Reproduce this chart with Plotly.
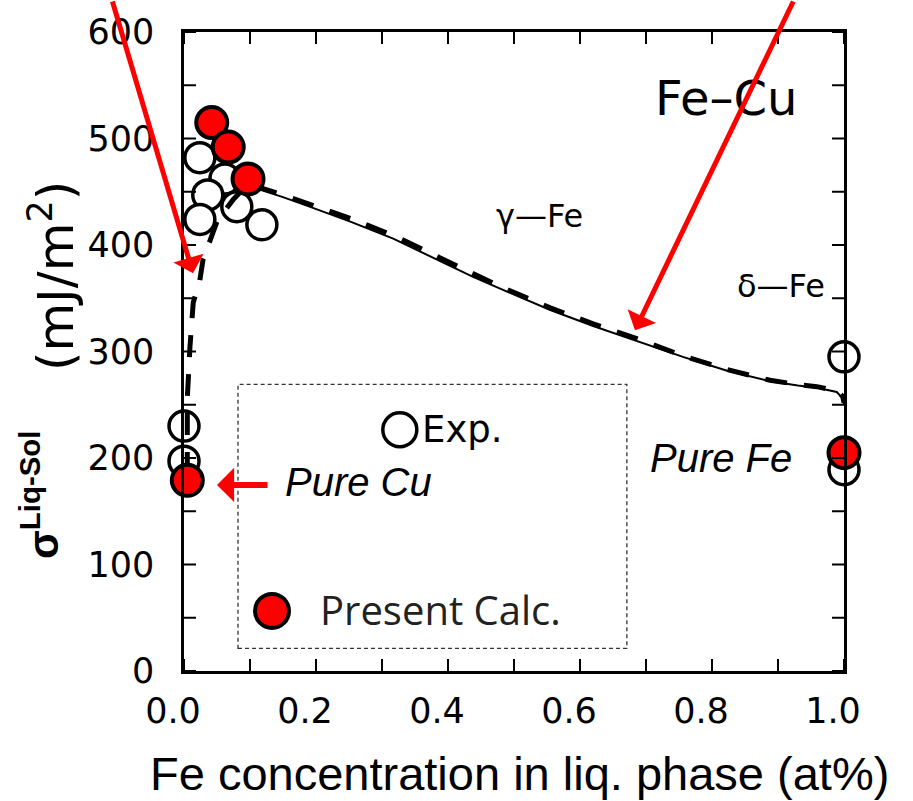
import plotly.graph_objects as go

# Experimental liquid-solid interfacial energies (open circles)
exp_x = [0.024, 0.062, 0.036, 0.080, 0.024, 0.118, 0.0, 0.0, 1.0, 1.0]
exp_y = [482, 462, 447, 436, 424, 419, 230, 197, 295, 189]

# Present calculation (red filled circles)
calc_x = [0.005, 0.042, 0.067, 0.097, 1.0]
calc_y = [179, 515, 492, 462, 205]

# Model curve (thick dashed)
dash_x = [0.005, 0.005, 0.009, 0.014, 0.024, 0.029, 0.040, 0.050, 0.058, 0.075,
          0.095, 0.120, 0.150, 0.186, 0.252, 0.317, 0.377, 0.438, 0.479, 0.555,
          0.620, 0.691, 0.756, 0.823, 0.888, 0.930, 0.959, 0.989, 0.998, 1.0]
dash_y = [185, 256, 304, 346, 367, 387, 405, 422, 429, 443,
          456, 453, 447, 439, 425, 409, 391, 373, 361, 341,
          326, 311, 296, 283, 273, 269, 267, 263, 258, 252]

# Reference curve (thin solid)
solid_x = [0.100, 0.120, 0.150, 0.186, 0.252, 0.317, 0.377, 0.438, 0.479, 0.555,
           0.620, 0.691, 0.756, 0.823, 0.888, 0.930, 0.959, 0.989, 0.998, 1.0]
solid_y = [455, 451, 445, 437, 422, 406, 388, 370, 359, 339,
           324, 309, 295, 282, 272, 268, 266, 262, 256, 250]

x_tickvals = [0.0, 0.1, 0.2, 0.3, 0.4, 0.5, 0.6, 0.7, 0.8, 0.9, 1.0]
x_ticktext = ["0.0", "", "0.2", "", "0.4", "", "0.6", "", "0.8", "", "1.0"]
y_tickvals = [0, 50, 100, 150, 200, 250, 300, 350, 400, 450, 500, 550, 600]
y_ticktext = ["0", "", "100", "", "200", "", "300", "", "400", "", "500", "", "600"]

RED = "#ff0000"
TICK_FONT = dict(family="DejaVu Sans", size=35, color="black")
TICK_LEN = 12

fig = go.Figure()

fig.add_trace(go.Scatter(
    x=exp_x, y=exp_y, mode="markers", cliponaxis=False, showlegend=False,
    marker=dict(size=30, color="white", line=dict(color="black", width=3.5)),
))
fig.add_trace(go.Scatter(
    x=solid_x, y=solid_y, mode="lines", cliponaxis=False, showlegend=False,
    line=dict(color="black", width=2),
))
fig.add_trace(go.Scatter(
    x=dash_x, y=dash_y, mode="lines", cliponaxis=False, showlegend=False,
    line=dict(color="black", width=5, dash="22px,17px"),
))
fig.add_trace(go.Scatter(
    x=calc_x, y=calc_y, mode="markers", cliponaxis=False, showlegend=False,
    marker=dict(size=31, color=RED, line=dict(color="black", width=4)),
))

axis_common = dict(
    showline=True, linewidth=2.5, linecolor="black", mirror=True,
    ticks="", showgrid=False, zeroline=False, tickfont=TICK_FONT, tickmode="array",
)
fig.update_xaxes(range=[0, 1.0], tickvals=x_tickvals, ticktext=x_ticktext,
                 ticklabelshift=-11, ticklabelstandoff=7, **axis_common)
fig.update_yaxes(range=[0, 600], tickvals=y_tickvals, ticktext=y_ticktext,
                 ticklabelstandoff=20, **axis_common)

# inward tick marks on all four sides of the frame
tick_line = dict(color="black", width=2)
shapes = []
for v in x_tickvals:
    shapes.append(dict(type="line", xref="x", yref="paper", ysizemode="pixel",
                       yanchor=0, x0=v, x1=v, y0=0, y1=TICK_LEN, line=tick_line))
    shapes.append(dict(type="line", xref="x", yref="paper", ysizemode="pixel",
                       yanchor=1, x0=v, x1=v, y0=-TICK_LEN, y1=0, line=tick_line))
for v in y_tickvals:
    shapes.append(dict(type="line", yref="y", xref="paper", xsizemode="pixel",
                       xanchor=0, y0=v, y1=v, x0=0, x1=TICK_LEN, line=tick_line))
    shapes.append(dict(type="line", yref="y", xref="paper", xsizemode="pixel",
                       xanchor=1, y0=v, y1=v, x0=-TICK_LEN, x1=0, line=tick_line))

shapes += [
    # dashed legend frame
    dict(type="rect", xref="paper", yref="paper", x0=0.0818, x1=0.671,
         y0=0.0354, y1=0.4484, line=dict(color="#333", width=1.3, dash="4px,3px"),
         fillcolor="rgba(0,0,0,0)", layer="below"),
    # legend keys
    dict(type="circle", xref="paper", yref="paper", xsizemode="pixel", ysizemode="pixel",
         xanchor=0.327, yanchor=0.3775, x0=-17, x1=17, y0=-17, y1=17,
         line=dict(color="black", width=3.5), fillcolor="white"),
    dict(type="circle", xref="paper", yref="paper", xsizemode="pixel", ysizemode="pixel",
         xanchor=0.1333, yanchor=0.094, x0=-17, x1=17, y0=-17, y1=17,
         line=dict(color="black", width=4), fillcolor=RED),
]

ann = []
def text(t, x, y, font, xanchor="center", angle=0):
    ann.append(dict(text=t, x=x, y=y, xref="paper", yref="paper", showarrow=False,
                    xanchor=xanchor, yanchor="middle", textangle=angle, font=font))

def arrow(x, y, ax, ay, size=1.05, width=5):
    ann.append(dict(text="", x=x, y=y, xref="paper", yref="paper", ax=ax, ay=ay,
                    showarrow=True, arrowhead=1, arrowsize=size, arrowwidth=width,
                    arrowcolor=RED, standoff=0))

text("Exp.", 0.3576, 0.3775, dict(family="DejaVu Sans", size=37, color="black"), "left")
text("Present Calc.", 0.203, 0.097, dict(family="Open Sans", size=40, color="#222"), "left")
text("<i>Pure Cu</i>", 0.265, 0.296, dict(family="Liberation Sans", size=40, color="black"))
text("<i>Pure Fe</i>", 0.8136, 0.3328, dict(family="Liberation Sans", size=40, color="black"))
text("Fe–Cu", 0.821, 0.896, dict(family="DejaVu Sans", size=48, color="black"))
text("γ—Fe", 0.539, 0.712, dict(family="DejaVu Sans", size=32, color="black"))
text("δ—Fe", 0.9045, 0.602, dict(family="DejaVu Sans", size=32, color="black"))
text("(mJ/m<sup>2</sup>)", -0.2, 0.618, dict(family="DejaVu Sans", size=50, color="black"), angle=-90)
text("<b>σ<sup>Liq-Sol</sup></b>", -0.218, 0.2758, dict(family="Liberation Sans", size=42, color="black"), angle=-90)
text("Fe concentration in liq. phase (at%)", 0.509, -0.16,
     dict(family="Liberation Sans", size=47, color="black"))

arrow(0.01364, 0.6225, -81, -287)
arrow(0.6833, 0.5331, 159, -345)
arrow(0.05, 0.2912, 52, 0, size=0.95, width=6)

fig.update_layout(
    width=913, height=801,
    margin=dict(l=184, r=69, t=22, b=130),
    paper_bgcolor="white", plot_bgcolor="white",
    shapes=shapes, annotations=ann,
)

fig.write_html("out.html")
